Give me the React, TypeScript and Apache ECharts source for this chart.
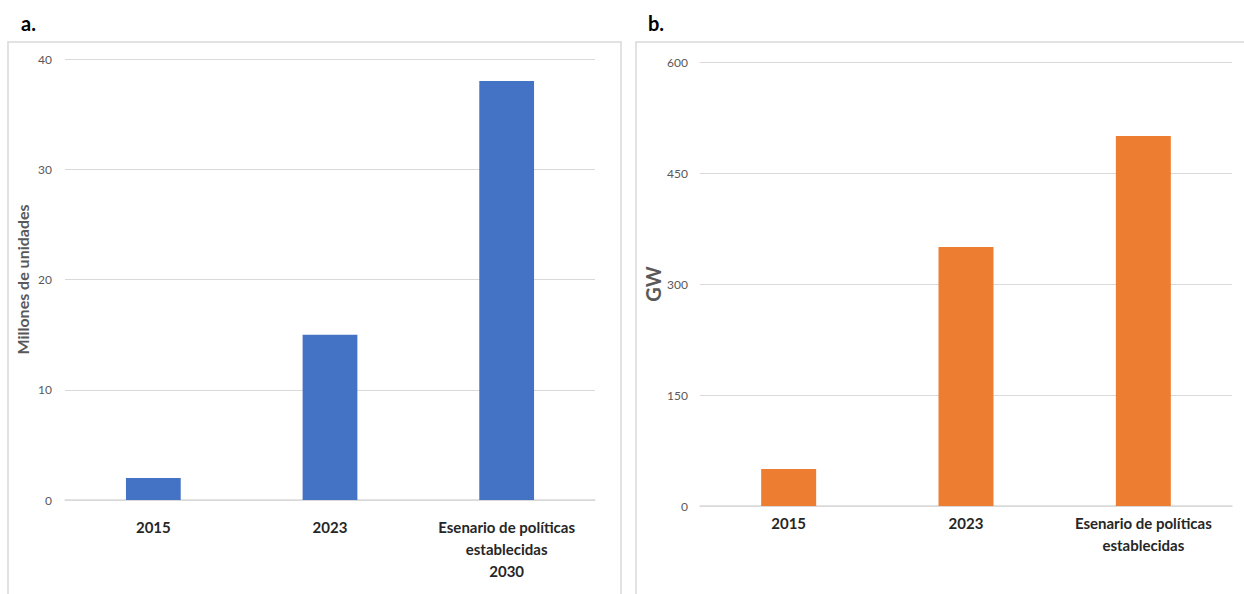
import React, { useEffect, useRef } from "react";
import * as echarts from "echarts";

const categoriesA = ["2015", "2023", "Esenario de políticas\nestablecidas\n2030"];
const valuesA = [2, 15, 38];
const categoriesB = ["2015", "2023", "Esenario de políticas\nestablecidas"];
const valuesB = [50, 350, 500];
const axisA = { min: 0, max: 40, interval: 10, name: "Millones de unidades" };
const axisB = { min: 0, max: 600, interval: 150, name: "GW" };
const panelTitles = ["a.", "b."];

const FONT = "Lato, 'Open Sans', sans-serif";

export default function App() {
  const ref = useRef<HTMLDivElement>(null);
  useEffect(() => {
    if (!ref.current) return;
    const chart = echarts.init(ref.current, null, { renderer: "svg" });
    const catLabel = (margin: number) => ({
      fontFamily: FONT,
      fontWeight: "bold",
      fontSize: 15,
      color: "#262626",
      lineHeight: 22,
      margin,
      interval: 0,
    });
    const valAxis = (ax: any, margin: number, nameGap: number, nameSize: number) => ({
      type: "value",
      min: ax.min,
      max: ax.max,
      interval: ax.interval,
      name: ax.name,
      nameLocation: "middle",
      nameGap,
      nameTextStyle: { fontFamily: FONT, fontWeight: "bold", fontSize: nameSize, color: "#595959" },
      axisLabel: { fontFamily: FONT, fontSize: 12, color: "#595959", margin },
      axisLine: { show: false },
      axisTick: { show: false },
      splitLine: { lineStyle: { color: "#D9D9D9", width: 1 } },
    });
    chart.setOption({
      animation: false,
      backgroundColor: "#ffffff",
      title: [
        { text: panelTitles[0], left: 16, top: 8, textStyle: { fontFamily: FONT, fontWeight: "bold", fontSize: 20, color: "#000" } },
        { text: panelTitles[1], left: 643, top: 8, textStyle: { fontFamily: FONT, fontWeight: "bold", fontSize: 20, color: "#000" } },
      ],
      graphic: [
        { type: "rect", shape: { x: 8, y: 42, width: 613, height: 570 }, style: { fill: "none", stroke: "#D9D9D9", lineWidth: 1.5 }, silent: true },
        { type: "rect", shape: { x: 636, y: 42, width: 630, height: 570 }, style: { fill: "none", stroke: "#D9D9D9", lineWidth: 1.5 }, silent: true },
      ],
      grid: [
        { left: 65, right: 649, top: 59, bottom: 94 },
        { left: 700, right: 12, top: 62, bottom: 88 },
      ],
      xAxis: [
        {
          type: "category",
          gridIndex: 0,
          data: categoriesA,
          axisLine: { lineStyle: { color: "#D9D9D9", width: 1.5 } },
          axisTick: { show: false },
          axisLabel: catLabel(16),
        },
        {
          type: "category",
          gridIndex: 1,
          data: categoriesB,
          axisLine: { lineStyle: { color: "#D9D9D9", width: 1.5 } },
          axisTick: { show: false },
          axisLabel: catLabel(6),
        },
      ],
      yAxis: [
        { gridIndex: 0, ...valAxis(axisA, 13, 35, 16) },
        { gridIndex: 1, ...valAxis(axisB, 12, 37, 20) },
      ],
      series: [
        { type: "bar", xAxisIndex: 0, yAxisIndex: 0, data: valuesA, barWidth: "31%", itemStyle: { color: "#4472C4" } },
        { type: "bar", xAxisIndex: 1, yAxisIndex: 1, data: valuesB, barWidth: "31%", itemStyle: { color: "#ED7D31" } },
      ],
    });
    return () => chart.dispose();
  }, []);
  return (
    <div
      ref={ref}
      style={{ position: "fixed", left: 0, top: 0, width: 1244, height: 594, background: "#fff" }}
    />
  );
}
